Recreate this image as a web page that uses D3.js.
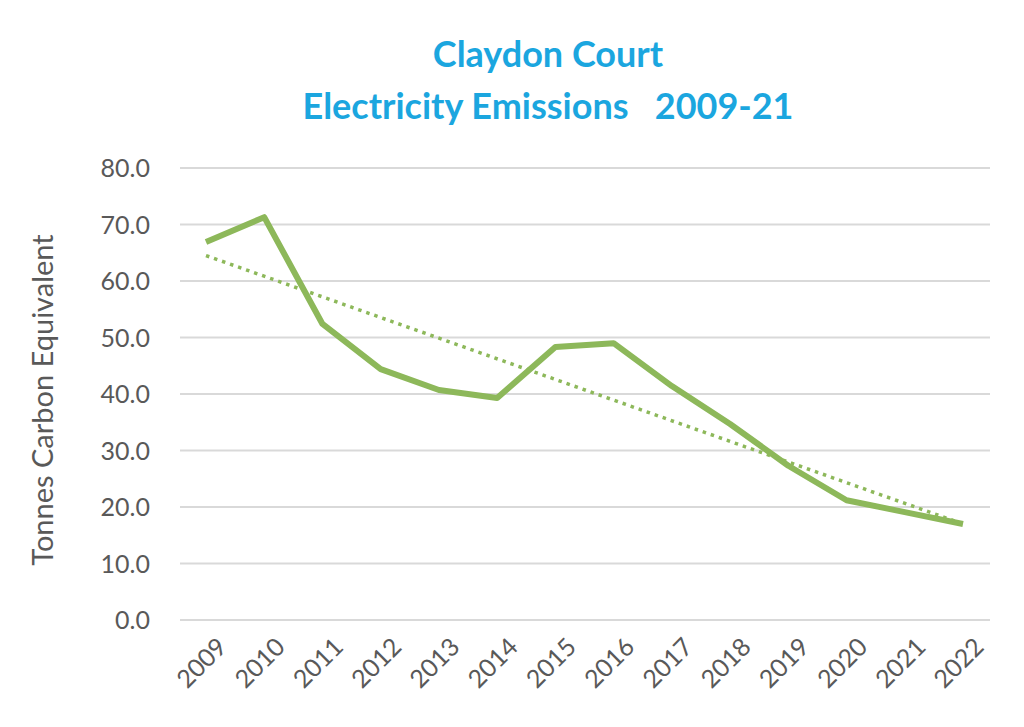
<!DOCTYPE html>
<html><head><meta charset="utf-8">
<script src="https://cdn.jsdelivr.net/npm/d3@7"></script>
<style>body{margin:0;background:#fff}text{font-family:Lato,"Open Sans",sans-serif}</style>
</head><body><svg id="c" width="1024" height="727"></svg>
<script>
const years=[2009,2010,2011,2012,2013,2014,2015,2016,2017,2018,2019,2020,2021,2022];
const emissions=[66.9,71.3,52.4,44.4,40.7,39.3,48.3,49.0,41.4,34.7,27.3,21.2,19.1,17.0];
const trendYears=[2009,2022];
const trendValues=[64.5,17.0];
const yTicks=[0,10,20,30,40,50,60,70,80];
const svg=d3.select("#c");
const x=d3.scalePoint().domain(years).range([206,963]);
const y=d3.scaleLinear().domain([0,80]).range([620,168]);
svg.append("g").selectAll("line").data(yTicks).join("line")
 .attr("x1",180).attr("x2",990).attr("y1",d=>y(d)).attr("y2",d=>y(d))
 .attr("stroke","#d9d9d9").attr("stroke-width",2);
svg.append("g").selectAll("text").data(yTicks).join("text")
 .attr("x",150).attr("y",d=>y(d)+9).attr("text-anchor","end")
 .attr("font-size",25).attr("fill","#595959").text(d=>d.toFixed(1));
svg.append("g").selectAll("text").data(years).join("text")
 .attr("transform",d=>`translate(${x(d)+10},${636}) rotate(-45)`)
 .attr("text-anchor","end").attr("dy","0.7em")
 .attr("font-size",25).attr("fill","#595959").text(d=>d);
svg.append("text").attr("transform","translate(53,400) rotate(-90)")
 .attr("text-anchor","middle").attr("font-size",29).attr("fill","#595959")
 .text("Tonnes Carbon Equivalent");
svg.append("text").attr("x",548).attr("y",67).attr("text-anchor","middle")
 .attr("font-size",36).attr("font-weight","bold").attr("fill","#1ba6df").text("Claydon Court");
svg.append("text").attr("x",548).attr("y",119).attr("text-anchor","middle")
 .attr("font-size",36).attr("font-weight","bold").attr("fill","#1ba6df")
 .attr("xml:space","preserve").text("Electricity Emissions   2009-21");
svg.append("path").datum(years.map((d,i)=>[d,emissions[i]]))
 .attr("d",d3.line().x(d=>x(d[0])).y(d=>y(d[1])))
 .attr("fill","none").attr("stroke","#8db85a").attr("stroke-width",6).attr("stroke-linejoin","round");
svg.append("path").datum(trendYears.map((d,i)=>[d,trendValues[i]]))
 .attr("d",d3.line().x(d=>x(d[0])).y(d=>y(d[1])))
 .attr("fill","none").attr("stroke","#8db85a").attr("stroke-width",3.5).attr("stroke-dasharray","3.5,5");
</script></body></html>
